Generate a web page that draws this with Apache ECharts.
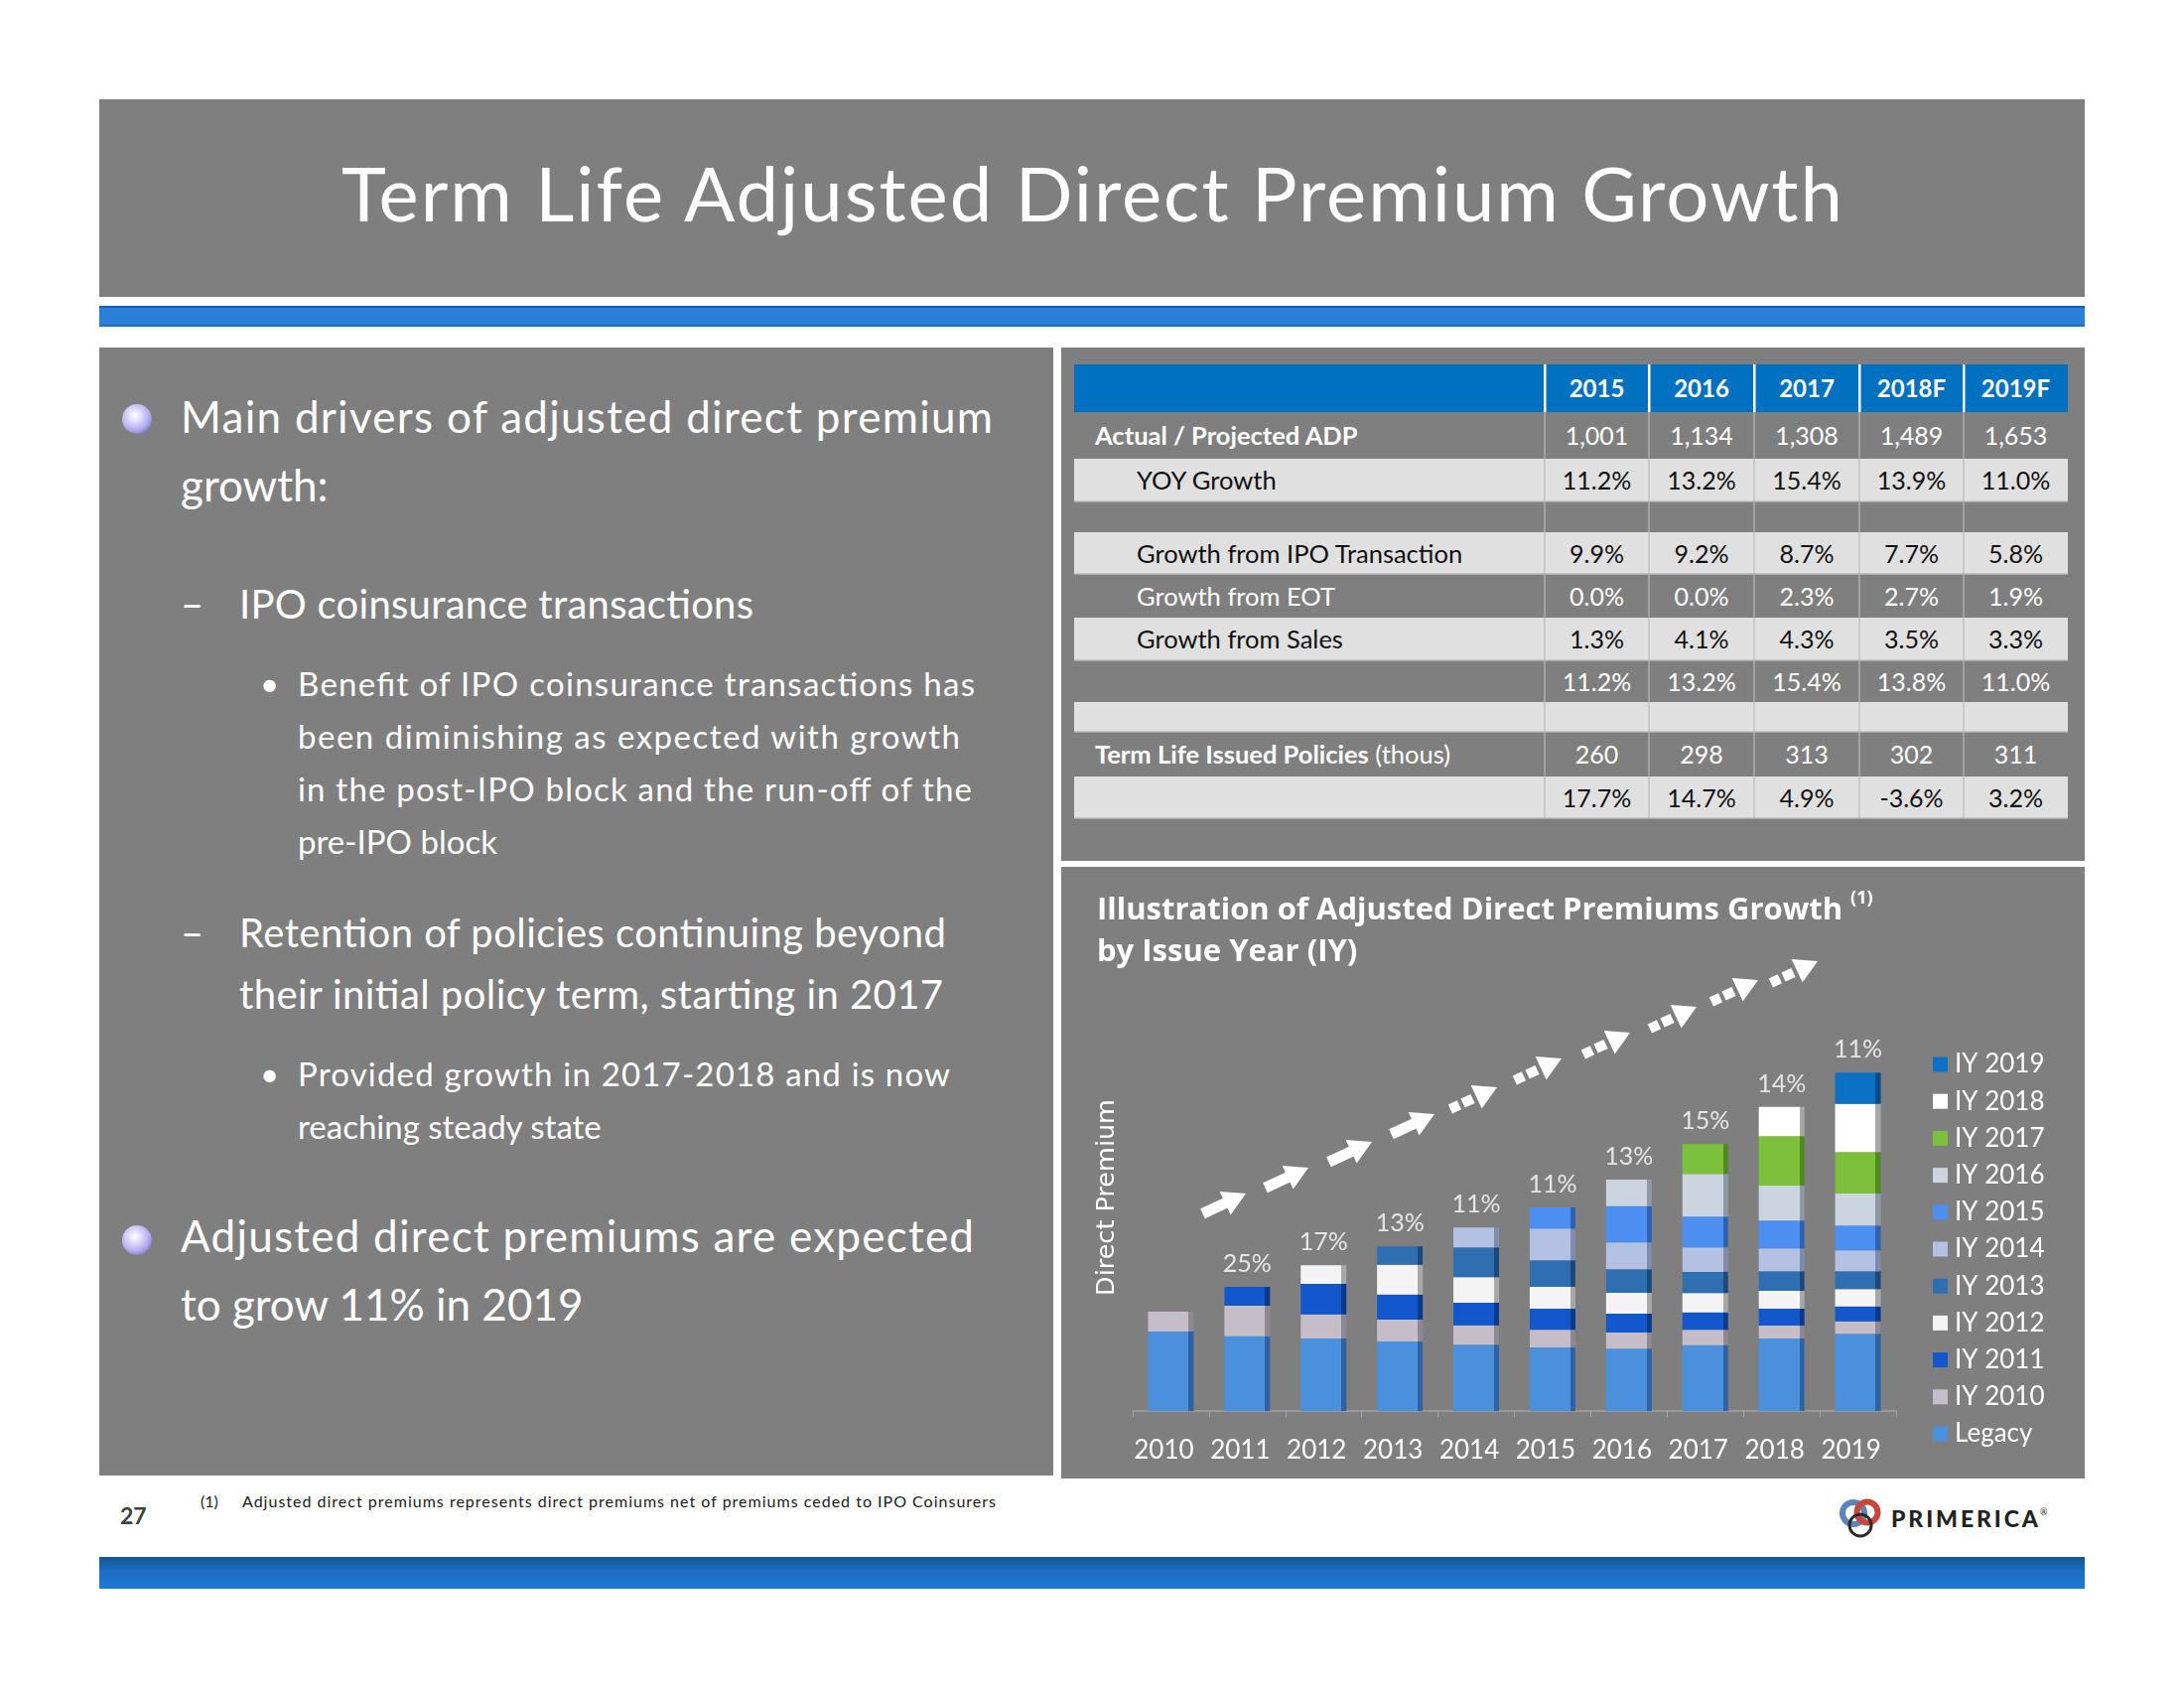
<!DOCTYPE html>
<html>
<head>
<meta charset="utf-8">
<script src="https://cdn.jsdelivr.net/npm/echarts/dist/echarts.min.js"></script>
<style>
  html, body { margin:0; padding:0; background:#ffffff; }
  #stage { position:relative; width:2200px; height:1700px; overflow:hidden; background:#ffffff; }
  #slide { position:absolute; left:0; top:0; }
  #chart { position:absolute; left:1069px; top:873px; width:1031px; height:616px; }
  text { font-family: Lato, 'Open Sans', sans-serif; }
</style>
</head>
<body>
<div id="stage">
<svg id="slide" width="2200" height="1700" xmlns="http://www.w3.org/2000/svg">
  <defs>
    <linearGradient id="botBar" x1="0" y1="0" x2="0" y2="1">
      <stop offset="0" stop-color="#14568f"/>
      <stop offset="0.45" stop-color="#1b6fc4"/>
      <stop offset="1" stop-color="#1e79d3"/>
    </linearGradient>
    <radialGradient id="orb" cx="0.42" cy="0.38" r="0.62">
      <stop offset="0" stop-color="#ffffff"/>
      <stop offset="0.3" stop-color="#e4e0fc"/>
      <stop offset="0.8" stop-color="#b2aaee"/>
      <stop offset="1" stop-color="#8e86d4"/>
    </radialGradient>
  </defs>

  <!-- title band -->
  <rect x="100" y="100" width="2000" height="199" fill="#7f7f7f"/>
  <rect x="100" y="308" width="2000" height="21" fill="#2a80d8"/>
  <rect x="100" y="308" width="2000" height="2" fill="#1362ae"/>
  <rect x="100" y="327" width="2000" height="2" fill="#1a6cc0"/>
  <text x="1100" y="223" text-anchor="middle" font-size="76" fill="#ffffff" textLength="1512" lengthAdjust="spacing">Term Life Adjusted Direct Premium Growth</text>

  <!-- panels -->
  <rect x="100" y="350" width="961" height="1136" fill="#7f7f7f"/>
  <rect x="1069" y="350" width="1031" height="517" fill="#7f7f7f"/>
  <rect x="1069" y="873" width="1031" height="616" fill="#7f7f7f"/>

  <!-- left text -->
  <g fill="#ffffff">
    <circle cx="138" cy="422" r="15" fill="url(#orb)"/>
    <text x="182" y="436" font-size="44" textLength="818" lengthAdjust="spacing">Main drivers of adjusted direct premium</text>
    <text x="182" y="505" font-size="44">growth:</text>

    <text x="182" y="623" font-size="40">–</text>
    <text x="241" y="623" font-size="40" textLength="518" lengthAdjust="spacing">IPO coinsurance transactions</text>

    <text x="262" y="701" font-size="33">•</text>
    <text x="300" y="701" font-size="33" textLength="682" lengthAdjust="spacing">Benefit of IPO coinsurance transactions has</text>
    <text x="300" y="754" font-size="33" textLength="667" lengthAdjust="spacing">been diminishing as expected with growth</text>
    <text x="300" y="807" font-size="33" textLength="679" lengthAdjust="spacing">in the post-IPO block and the run-off of the</text>
    <text x="300" y="860" font-size="33">pre-IPO block</text>

    <text x="182" y="954" font-size="40">–</text>
    <text x="241" y="954" font-size="40" textLength="712" lengthAdjust="spacing">Retention of policies continuing beyond</text>
    <text x="241" y="1016" font-size="40" textLength="709" lengthAdjust="spacing">their initial policy term, starting in 2017</text>

    <text x="262" y="1094" font-size="33">•</text>
    <text x="300" y="1094" font-size="33" textLength="657" lengthAdjust="spacing">Provided growth in 2017-2018 and is now</text>
    <text x="300" y="1147" font-size="33">reaching steady state</text>

    <circle cx="138" cy="1249" r="15" fill="url(#orb)"/>
    <text x="182" y="1261" font-size="44" textLength="799" lengthAdjust="spacing">Adjusted direct premiums are expected</text>
    <text x="182" y="1330" font-size="44">to grow 11% in 2019</text>
  </g>

  <!-- table (built by script) -->
  <g id="table"></g>

  <!-- footer -->
  <text x="121" y="1535" font-size="23" font-weight="bold" fill="#404040">27</text>
  <text x="202" y="1518" font-size="16" fill="#1a1a1a">(1)</text>
  <text x="244" y="1518" font-size="16" fill="#1a1a1a" textLength="759" lengthAdjust="spacing">Adjusted direct premiums represents direct premiums net of premiums ceded to IPO Coinsurers</text>

  <g transform="translate(1874,1529)">
    <circle cx="-7" cy="-5" r="11" fill="none" stroke="#5d84b8" stroke-width="6"/>
    <circle cx="7" cy="-6" r="10.5" fill="none" stroke="#c8463c" stroke-width="6"/>
    <circle cx="0" cy="7" r="11" fill="none" stroke="#2b2b2b" stroke-width="3"/>
  </g>
  <text x="1905" y="1538" font-size="23" font-weight="900" fill="#222222" textLength="148" lengthAdjust="spacing">PRIMERICA</text>
  <text x="2055" y="1526" font-size="9" fill="#222222">®</text>

  <rect x="100" y="1568" width="2000" height="32" fill="url(#botBar)"/>
</svg>
<div id="chart"></div>
</div>

<script>
// ---------------- data: chart ----------------
const years = ['2010','2011','2012','2013','2014','2015','2016','2017','2018','2019'];
const growthLabels = ['', '25%', '17%', '13%', '11%', '11%', '13%', '15%', '14%', '11%'];
const legacy = [240, 226, 219, 210, 200, 192, 188, 199, 219, 233];
const iy2010 = [60, 92, 73, 66, 59, 53, 49, 46, 39, 38];
const iy2011 = [null, 57, 92, 76, 68, 64, 57, 53, 51, 45];
const iy2012 = [null, null, 56, 90, 77, 66, 63, 58, 54, 52];
const iy2013 = [null, null, null, 55, 90, 80, 71, 64, 59, 54];
const iy2014 = [null, null, null, null, 60, 96, 81, 74, 69, 63];
const iy2015 = [null, null, null, null, null, 64, 110, 93, 84, 75];
const iy2016 = [null, null, null, null, null, null, 80, 129, 106, 97];
const iy2017 = [null, null, null, null, null, null, null, 90, 149, 125];
const iy2018 = [null, null, null, null, null, null, null, null, 89, 146];
const iy2019 = [null, null, null, null, null, null, null, null, null, 94];

// ---------------- data: table ----------------
const tableYears = ['2015', '2016', '2017', '2018F', '2019F'];
const adpValues = ['1,001', '1,134', '1,308', '1,489', '1,653'];
const yoyGrowth = ['11.2%', '13.2%', '15.4%', '13.9%', '11.0%'];
const ipoGrowth = ['9.9%', '9.2%', '8.7%', '7.7%', '5.8%'];
const eotGrowth = ['0.0%', '0.0%', '2.3%', '2.7%', '1.9%'];
const salesGrowth = ['1.3%', '4.1%', '4.3%', '3.5%', '3.3%'];
const totalGrowth = ['11.2%', '13.2%', '15.4%', '13.8%', '11.0%'];
const issuedPolicies = ['260', '298', '313', '302', '311'];
const policyGrowth = ['17.7%', '14.7%', '4.9%', '-3.6%', '3.2%'];

// ---------------- table drawing ----------------
(function buildTable() {
  const NS = 'http://www.w3.org/2000/svg';
  const g = document.getElementById('table');
  const left = 1082, right = 2083;
  const colX = [1082, 1556, 1661, 1767, 1873, 1978, 2083];
  function el(name, attrs, txt) {
    const e = document.createElementNS(NS, name);
    for (const k in attrs) e.setAttribute(k, attrs[k]);
    if (txt !== undefined) e.textContent = txt;
    g.appendChild(e);
    return e;
  }
  const rows = [
    { h: 47, light: false, label: 'Actual / Projected ADP', bold: true, indent: false, vals: adpValues },
    { h: 44, light: true, label: 'YOY Growth', indent: true, vals: yoyGrowth },
    { h: 30, light: false, label: '', vals: null },
    { h: 43, light: true, label: 'Growth from IPO Transaction', indent: true, vals: ipoGrowth },
    { h: 43, light: false, label: 'Growth from EOT', indent: true, vals: eotGrowth },
    { h: 44, light: true, label: 'Growth from Sales', indent: true, vals: salesGrowth },
    { h: 41, light: false, label: '', vals: totalGrowth },
    { h: 31, light: true, label: '', vals: null },
    { h: 44, light: false, label: 'Term Life Issued Policies', bold: true, extra: ' (thous)', indent: false, vals: issuedPolicies },
    { h: 43, light: true, label: '', vals: policyGrowth }
  ];
  // header
  const hTop = 367, hH = 48;
  el('rect', { x: left, y: hTop, width: right - left, height: hH, fill: '#0070c0' });
  for (let c = 1; c < 6; c++) el('rect', { x: colX[c] - 1, y: hTop, width: 2.5, height: hH, fill: '#ffffff' });
  tableYears.forEach((t, i) => {
    el('text', { x: (colX[i + 1] + colX[i + 2]) / 2, y: hTop + hH / 2 + 9, 'text-anchor': 'middle', 'font-size': 24, 'font-weight': 'bold', fill: '#ffffff' }, t);
  });
  let y = hTop + hH;
  rows.forEach(r => {
    if (r.light) {
      el('rect', { x: left, y: y, width: right - left, height: r.h, fill: '#e0e0e0' });
      el('rect', { x: left, y: y + r.h - 1.5, width: right - left, height: 1.5, fill: '#a9a9a9' });
    }
    for (let c = 1; c < 6; c++) el('rect', { x: colX[c] - 0.5, y: y, width: 1, height: r.h, fill: r.light ? '#b4b4b4' : '#c4c4c4' });
    const base = y + r.h / 2 + 9;
    const col = r.light ? '#111111' : '#ffffff';
    if (r.label) {
      const t = el('text', { x: r.indent ? 1145 : 1103, y: base, 'font-size': 25.5, fill: col, 'font-weight': r.bold ? 'bold' : 'normal' }, r.label);
      if (r.extra) {
        const ts = document.createElementNS(NS, 'tspan');
        ts.setAttribute('font-weight', 'normal');
        ts.textContent = r.extra;
        t.appendChild(ts);
      }
    }
    if (r.vals) {
      r.vals.forEach((v, i) => {
        el('text', { x: (colX[i + 1] + colX[i + 2]) / 2, y: base, 'text-anchor': 'middle', 'font-size': 25, fill: col }, v);
      });
    }
    y += r.h;
  });
})();

// ---------------- chart ----------------
const chart = echarts.init(document.getElementById('chart'), null, { renderer: 'canvas' });

const seriesDefs = [
  { name: 'Legacy', data: legacy, color: '#4a90dc', edge: '#2d63a4' },
  { name: 'IY 2010', data: iy2010, color: '#c5bec9', edge: '#8e8893' },
  { name: 'IY 2011', data: iy2011, color: '#1257cc', edge: '#0a398c' },
  { name: 'IY 2012', data: iy2012, color: '#f4f4f4', edge: '#a8a8a8' },
  { name: 'IY 2013', data: iy2013, color: '#2f6eb0', edge: '#1c497b' },
  { name: 'IY 2014', data: iy2014, color: '#b4c1e3', edge: '#7f8cae' },
  { name: 'IY 2015', data: iy2015, color: '#4d8ff0', edge: '#2c61b3' },
  { name: 'IY 2016', data: iy2016, color: '#ccd4e0', edge: '#8f98a5' },
  { name: 'IY 2017', data: iy2017, color: '#7dc03c', edge: '#4e8a20' },
  { name: 'IY 2018', data: iy2018, color: '#ffffff', edge: '#a8a8a8' },
  { name: 'IY 2019', data: iy2019, color: '#0a71c4', edge: '#064c88' }
];

function faceGradient(c, e) {
  return new echarts.graphic.LinearGradient(0, 0, 1, 0, [
    { offset: 0, color: c }, { offset: 0.89, color: c },
    { offset: 0.89, color: e }, { offset: 1, color: e }
  ]);
}

const totals = years.map((_, i) => seriesDefs.reduce((s, d) => s + (d.data[i] || 0), 0));

const barSeries = seriesDefs.map(d => ({
  name: d.name,
  type: 'bar',
  stack: 'premium',
  data: d.data,
  barWidth: 46,
  itemStyle: { color: faceGradient(d.color, d.edge) },
  emphasis: { disabled: true },
  silent: true
}));

const labelSeries = {
  name: 'growth',
  type: 'scatter',
  data: totals,
  symbolSize: 1,
  itemStyle: { color: 'rgba(0,0,0,0)' },
  label: {
    show: true, position: 'top', distance: 10,
    color: '#ffffff', fontSize: 25, fontFamily: 'Lato',
    formatter: p => growthLabels[p.dataIndex]
  },
  silent: true,
  z: 10
};

// decorative dashed arrows (layout only)
const arrowTips = [[186, 329], [249, 303], [313, 277], [376, 249], [439, 222], [504, 193], [573, 167], [640, 141], [702, 114], [762, 95]];
const arrowDashed = [false, false, false, false, true, true, true, true, true, true];
const arrowAngle = 25 * Math.PI / 180;
const arrowGraphics = arrowTips.map((p, i) => {
  const children = [
    { type: 'polygon', shape: { points: [[0, 0], [-23, -13], [-23, 13]] }, style: { fill: '#ffffff' } }
  ];
  if (arrowDashed[i]) {
    children.push({ type: 'rect', shape: { x: -52, y: -5, width: 10, height: 10 }, style: { fill: '#ffffff' } });
    children.push({ type: 'rect', shape: { x: -38, y: -5, width: 11, height: 10 }, style: { fill: '#ffffff' } });
  } else {
    children.push({ type: 'rect', shape: { x: -48, y: -5.5, width: 27, height: 11 }, style: { fill: '#ffffff' } });
  }
  return { type: 'group', x: p[0], y: p[1], rotation: arrowAngle, silent: true, children: children };
});

const legendOrder = seriesDefs.slice().reverse();

chart.setOption({
  animation: false,
  backgroundColor: 'transparent',
  title: {
    text: 'Illustration of Adjusted Direct Premiums Growth {sup|(1)}\nby Issue Year (IY)',
    left: 36, top: 23, padding: 0,
    textStyle: {
      color: '#ffffff', fontSize: 31, fontWeight: 'bold', fontFamily: "'Open Sans', sans-serif", lineHeight: 42,
      rich: { sup: { color: '#ffffff', fontSize: 18, fontWeight: 'bold', fontFamily: "'Open Sans', sans-serif", verticalAlign: 'top', lineHeight: 24 } }
    }
  },
  legend: {
    orient: 'vertical', left: 873, top: 179,
    itemWidth: 15, itemHeight: 15, itemGap: 7.2, icon: 'rect', selectedMode: false,
    data: legendOrder.map(d => ({ name: d.name, itemStyle: { color: d.color } })),
    textStyle: { color: '#ffffff', fontSize: 26, fontFamily: 'Lato', lineHeight: 30, padding: [0, 0, 0, 2] }
  },
  grid: { left: 72, top: 118, width: 769, height: 430 },
  xAxis: {
    type: 'category', data: years,
    axisLine: { lineStyle: { color: '#a3a3a3', width: 1.5 } },
    axisTick: { show: true, length: 6, lineStyle: { color: '#a3a3a3' } },
    axisLabel: { interval: 0, hideOverlap: false, color: '#ffffff', fontSize: 26, fontFamily: 'Lato', margin: 27, padding: [0, 14, 0, 0] }
  },
  yAxis: {
    type: 'value', min: 0, max: 1290,
    axisLine: { show: false }, axisTick: { show: false }, axisLabel: { show: false }, splitLine: { show: false },
    name: 'Direct Premium', nameLocation: 'middle', nameGap: 13, nameRotate: 90,
    nameTextStyle: { color: '#ffffff', fontSize: 25.5, fontFamily: "'DejaVu Sans', sans-serif" }
  },
  series: barSeries.concat([labelSeries]),
  graphic: arrowGraphics
});
</script>
</body>
</html>
